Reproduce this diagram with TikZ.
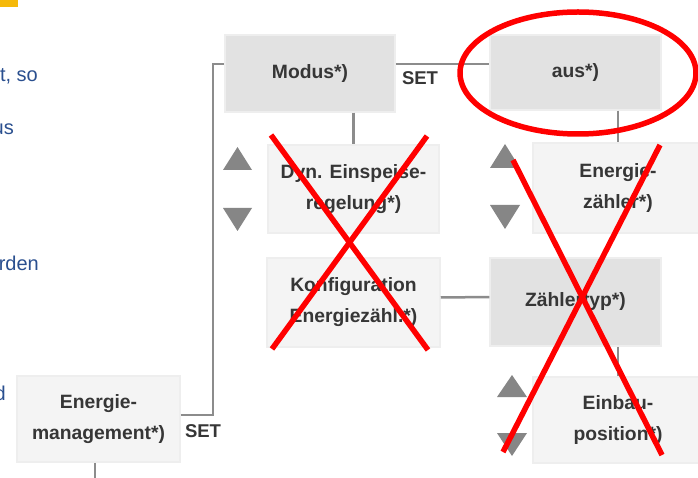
\documentclass[tikz,border=0pt]{standalone}
\usepackage{fontspec}
\setmainfont{Liberation Sans}
\usetikzlibrary{calc}
\definecolor{boxdark}{HTML}{E2E2E2}
\definecolor{boxlight}{HTML}{F4F4F4}
\definecolor{boxedge}{HTML}{EEEEEE}
\definecolor{txt}{HTML}{363636}
\definecolor{wire}{HTML}{8C8C8C}
\definecolor{arrowgray}{HTML}{868686}
\definecolor{prose}{HTML}{2A4F8F}
\definecolor{crossred}{HTML}{FF0000}
\definecolor{tab}{HTML}{F5B90A}
\tikzset{
  menubox/.style={rectangle, draw=boxedge, line width=1.5pt, text=txt,
    align=center, inner sep=0pt,
    font=\fontsize{19.3}{31}\selectfont\bfseries},
  darkbox/.style={menubox, fill=boxdark},
  lightbox/.style={menubox, fill=boxlight},
  wireline/.style={draw=wire, line width=2.5pt},
  setlabel/.style={text=txt, inner sep=0pt, font=\fontsize{18.5}{20}\selectfont\bfseries},
  prosetext/.style={text=prose, inner sep=0pt, anchor=base east,
    font=\fontsize{20}{24}\selectfont},
  updown/.style={fill=arrowgray},
  crossout/.style={draw=crossred, line width=5.5pt}
}
\begin{document}
\begin{tikzpicture}[x=1pt,y=-1pt]
\useasboundingbox (0,0) rectangle (698,478);
\fill[white] (0,0) rectangle (698,478);

% fragment of the page: tab marker and running text on the left
\fill[tab] (0,0) rectangle (18,7);
\node[prosetext] (p1) at (38,82) {t, so};
\node[prosetext] (p2) at (14,135) {us};
\node[prosetext] (p3) at (39,270) {rden};
\node[prosetext] (p4) at (6,400) {d};

% menu entries
\node[lightbox, minimum width=163pt, minimum height=86pt] (em) at (98.5,419)
  {Energie-\\management*)};
\node[darkbox, minimum width=170pt, minimum height=77pt] (modus) at (310,73.5) {Modus*)};
\node[darkbox, minimum width=171pt, minimum height=75pt] (aus) at (575.5,72.5) {aus*)};
\node[lightbox, minimum width=171pt, minimum height=88pt] (dyn) at (353.5,189)
  {Dyn. Einspeise-\\regelung*)};
\node[lightbox, minimum width=173pt, minimum height=89pt] (konf) at (353.5,302.5)
  {Konfiguration\\Energiezähl.*)};
\node[darkbox, minimum width=171pt, minimum height=88pt] (ztyp) at (575.5,302) {Zählertyp*)};
\node[lightbox, minimum width=170pt, minimum height=90pt] (ezaehler) at (618,188)
  {Energie-\\zähler*)};
\node[lightbox, minimum width=170pt, minimum height=86pt] (einbau) at (618,420)
  {Einbau-\\position*)};

% SET labels
\node[setlabel] (set1) at (203,431) {SET};
\node[setlabel] (set2) at (420,78) {SET};

% connectors
\coordinate (riser) at (213,64);
\coordinate (setrow) at ([yshift=9.5pt]modus.east);
\coordinate (emtail) at (95,478);
\draw[wireline] ([yshift=4pt]em.east) -| (riser) -- (riser -| modus.west);
\draw[wireline] (setrow) -- (setrow -| aus.west);
\draw[wireline] (dyn.north |- modus.south) -- (dyn.north);
\draw[wireline] (ezaehler.north |- aus.south) -- (ezaehler.north);
\draw[wireline] ([yshift=5pt]konf.east) -- ([yshift=5pt]ztyp.west);
\draw[wireline] (einbau.north |- ztyp.south) -- (einbau.north);
\draw[wireline] (em.south -| emtail) -- (emtail);

% up / down keys
\fill[updown] (237.5,147) -- (252,170) -- (223,170) -- cycle;
\fill[updown] (223,208) -- (252,208) -- (237.5,231) -- cycle;
\fill[updown] (505,144) -- (520,168) -- (490,168) -- cycle;
\fill[updown] (490,205) -- (520,205) -- (505,229) -- cycle;
\fill[updown] (512,375) -- (527,397) -- (497,397) -- cycle;
\fill[updown] (497,433) -- (527,433) -- (512,456) -- cycle;

% red markings
\draw[crossout] (578,73) ellipse [x radius=118pt, y radius=61pt];
\draw[crossout] (271,135) -- (428,350);
\draw[crossout] (427,136) -- (272,349);
\draw[crossout] (513,160) -- (662,455);
\draw[crossout] (660,145) -- (503,452);
\end{tikzpicture}
\end{document}
